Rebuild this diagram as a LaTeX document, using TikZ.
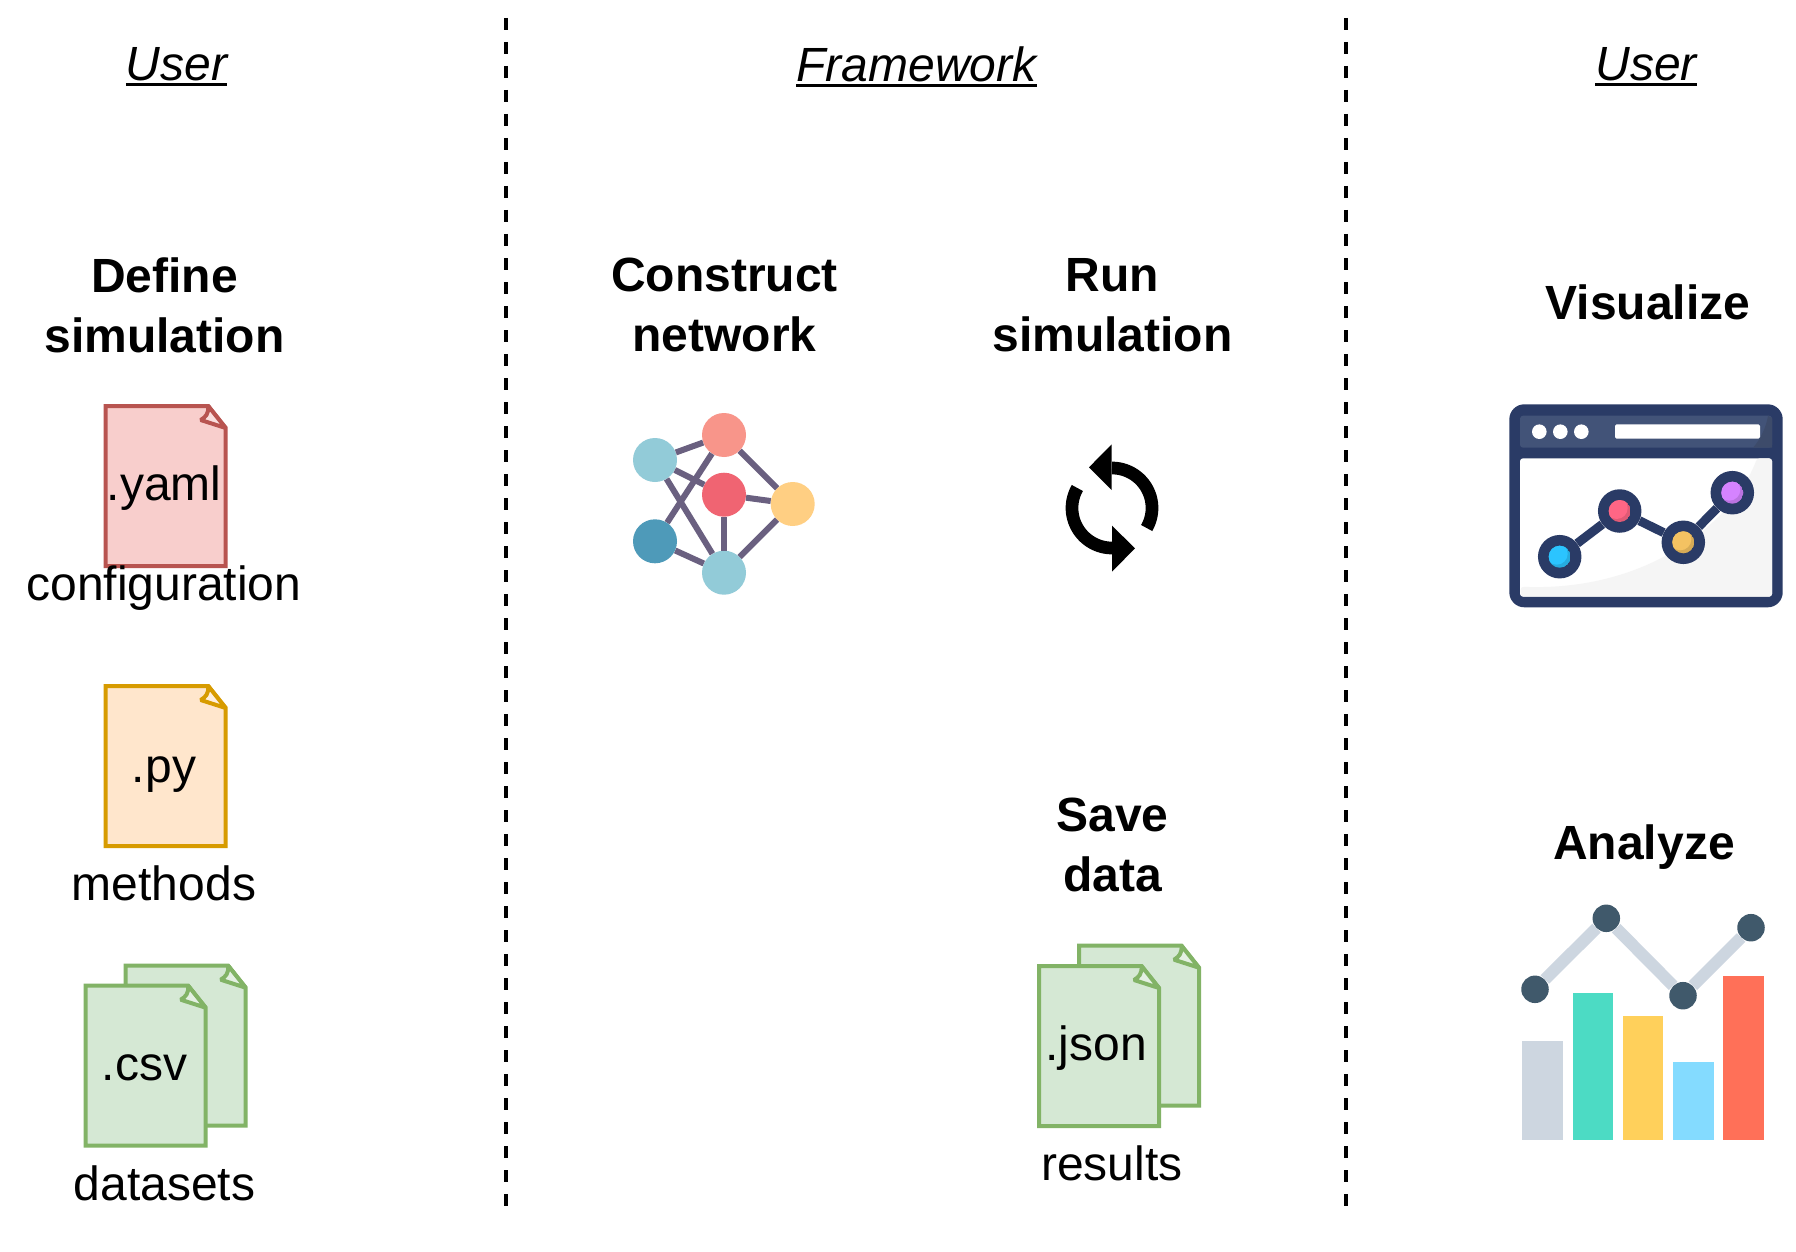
\documentclass[tikz,border=0pt]{standalone}
\usepackage{fontspec}
\setmainfont{Liberation Sans}
\newcommand{\ulined}[1]{\setbox0\hbox{#1}\rlap{\rule[-0.115em]{\wd0}{0.05em}}\box0}
\newcommand{\filedoc}[4]{%
  \begin{scope}[shift={(#1,#2)}]
    \draw[docline,fill=#3,draw=#4] (0,0) -- (102.5,0) -- (120,22) -- (120,160) -- (0,160) -- cycle;
    \draw[docline,draw=#4,fill=white!35!#3] (102.5,0) .. controls (103,8) and (100,11) .. (95,14) -- (120,22) -- cycle;
  \end{scope}}
\newcommand{\wininner}[2]{%
  \begin{scope}
    \clip (#1.center) circle[radius=11pt];
    \fill[#2!88!black] (#1.center) circle[radius=11pt];
    \fill[#2] ([xshift=-3pt,yshift=3pt]#1.center) circle[radius=11pt];
  \end{scope}}
\definecolor{redfill}{HTML}{F8CECC}\definecolor{redline}{HTML}{B85450}
\definecolor{orfill}{HTML}{FFE6CC}\definecolor{orline}{HTML}{D79B00}
\definecolor{grfill}{HTML}{D5E8D4}\definecolor{grline}{HTML}{82B366}
\definecolor{netedge}{HTML}{6A6080}
\definecolor{neta}{HTML}{92CBD8}\definecolor{netb}{HTML}{F8958A}\definecolor{netc}{HTML}{F06472}
\definecolor{netd}{HTML}{FFCF83}\definecolor{nete}{HTML}{4E9AB9}
\definecolor{winnavy}{HTML}{2A3B66}\definecolor{winbar}{HTML}{425378}\definecolor{winbard}{HTML}{3D4B6A}
\definecolor{wina}{HTML}{2BC4FF}\definecolor{winb}{HTML}{FF6685}\definecolor{winc}{HTML}{F4C262}\definecolor{wind}{HTML}{D583FF}
\definecolor{chartgrey}{HTML}{CDD6E0}\definecolor{chartnode}{HTML}{40596B}
\definecolor{bara}{HTML}{4CDBC4}\definecolor{barb}{HTML}{FFD05B}\definecolor{barc}{HTML}{84DBFF}\definecolor{bard}{HTML}{FF7058}
\tikzset{
  x=1pt,y=-1pt,
  txt/.style={font=\fontsize{48}{60}\selectfont,align=center,inner sep=0pt,text=black},
  head/.style={font=\fontsize{48}{60}\selectfont\bfseries,align=center,inner sep=0pt,text=black},
  colhead/.style={font=\fontsize{48}{60}\selectfont\itshape,inner sep=0pt,text=black},
  divider/.style={line width=4pt,dash pattern=on 12pt off 12pt},
  docline/.style={line width=4pt,line join=miter,miter limit=1.5},
  netnode/.style={circle,inner sep=0pt,minimum size=44pt,fill=#1},
  netlink/.style={line width=6pt,draw=netedge},
  winnode/.style={circle,inner sep=0pt,minimum size=43.5pt,fill=winnavy},
  winlink/.style={line width=9pt,draw=winnavy},
  chartnodest/.style={circle,inner sep=0pt,minimum size=27.5pt,fill=chartnode},
  chartlink/.style={line width=12pt,draw=chartgrey},
  windot/.style={circle,inner sep=0pt,minimum size=14.6pt,fill=white},
  refresh/.style={line width=12.7pt,draw=black}
}
\begin{document}
\begin{tikzpicture}
\useasboundingbox (0,0) rectangle (1796,1252);
\fill[white] (0,0) rectangle (1796,1252);

% dividers
\coordinate (d1a) at (506,18); \coordinate (d1b) at (506,1206);
\coordinate (d2a) at (1346,18); \coordinate (d2b) at (1346,1206);
\draw[divider] (d1a) -- (d1b);
\draw[divider] (d2a) -- (d2b);

% column heads
\node[colhead] (h1) at (176.5,66.5) {\ulined{User}};
\node[colhead] (h2) at (916.5,66.5) {\ulined{Framework}};
\node[colhead] (h3) at (1646,66.5) {\ulined{User}};

% step headings
\node[head] (s1) at (164.6,305) {Define\\simulation};
\node[head] (s2) at (724.6,305) {Construct\\network};
\node[head] (s3) at (1112.4,305) {Run\\simulation};
\node[head] (s4) at (1648,302) {Visualize};
\node[head] (s5) at (1112.6,845) {Save\\data};
\node[head] (s6) at (1644,847.5) {Analyze};

% files
\filedoc{105.7}{406}{redfill}{redline}
\node[txt] (yaml) at (164,488) {.yaml};
\node[txt] (conf) at (164,588.5) {configuration};
\filedoc{105.7}{686}{orfill}{orline}
\node[txt] (py) at (164,775) {.py};
\node[txt] (meth) at (164,883) {methods};
\filedoc{125.7}{965.7}{grfill}{grline}
\filedoc{85.7}{985.7}{grfill}{grline}
\node[txt] (csv) at (144.5,1067.5) {.csv};
\node[txt] (data) at (164.5,1183) {datasets};
\filedoc{1079}{945.7}{grfill}{grline}
\filedoc{1039}{966}{grfill}{grline}
\node[txt] (json) at (1096,1048) {.json};
\node[txt] (res) at (1112,1163) {results};

% network
\node[netnode=neta] (na) at (655,460) {};
\node[netnode=netb] (nb) at (724,435) {};
\node[netnode=netc] (nc) at (724,494.7) {};
\node[netnode=netd] (nd) at (792.7,504) {};
\node[netnode=nete] (ne) at (655,541.3) {};
\node[netnode=neta] (nf) at (724,572.7) {};
\draw[netlink] (na) -- (nb);
\draw[netlink] (na) -- (nc);
\draw[netlink] (na) -- (nf);
\draw[netlink] (ne) -- (nb);
\draw[netlink] (ne) -- (nf);
\draw[netlink] (nb) -- (nd);
\draw[netlink] (nc) -- (nd);
\draw[netlink] (nc) -- (nf);
\draw[netlink] (nd) -- (nf);

% refresh icon
\draw[refresh] plot[domain=90:-30,samples=40] ({1112+40*cos(\x)},{508-40*sin(\x)});
\draw[refresh] plot[domain=270:150,samples=40] ({1112+40*cos(\x)},{508-40*sin(\x)});
\fill[black] (1111.7,444.3) -- (1089,467.3) -- (1111.7,490) -- cycle;
\fill[black] (1112,525.7) -- (1135,548.3) -- (1112,571.7) -- cycle;

% window icon
\fill[winnavy,rounded corners=15pt] (1509.3,404.3) rectangle (1782.7,607.3);
\fill[white,rounded corners=3pt] (1520,458.3) -- (1772,458.3) -- (1772,596.7) -- (1520,596.7) -- cycle;
\fill[white!96!black,rounded corners=3pt] (1520.7,586.7) .. controls (1600,590) and (1680,565) .. (1736.7,496.7) .. controls (1745,484) and (1752,472) .. (1757,458.3) -- (1772,458.3) -- (1772,596.7) -- (1520.7,596.7) -- cycle;
\fill[winbar,rounded corners=3pt] (1520,415.7) rectangle (1772,447.7);
\fill[winbard] (1768,415.7) .. controls (1766,428) and (1760,440) .. (1753,447.7) -- (1772,447.7) -- (1772,418) -- cycle;
\node[windot] (wd1) at (1539.3,431.7) {};
\node[windot] (wd2) at (1560.3,431.7) {};
\node[windot] (wd3) at (1581.3,431.7) {};
\fill[white,rounded corners=1.5pt] (1615,424.3) rectangle (1760,438.7);
\node[winnode] (w1) at (1559.7,556.7) {};
\node[winnode] (w2) at (1619.7,511) {};
\node[winnode] (w3) at (1683.3,542.3) {};
\node[winnode] (w4) at (1732.3,492.7) {};
\draw[winlink] (w1) -- (w2);
\draw[winlink] (w2) -- (w3);
\draw[winlink] (w3) -- (w4);
\wininner{w1}{wina}
\wininner{w2}{winb}
\wininner{w3}{winc}
\wininner{w4}{wind}

% chart icon
\fill[chartgrey] (1522.3,1041) rectangle (1563,1139.7);
\fill[bara] (1573,993) rectangle (1613.3,1139.7);
\fill[barb] (1623,1015.7) rectangle (1663.3,1139.7);
\fill[barc] (1673.3,1062.3) rectangle (1713.7,1139.7);
\fill[bard] (1723,975.7) rectangle (1763.7,1139.7);
\node[chartnodest] (c1) at (1535,989.3) {};
\node[chartnodest] (c2) at (1606.3,918.3) {};
\node[chartnodest] (c3) at (1683,995.7) {};
\node[chartnodest] (c4) at (1751,927.7) {};
\draw[chartlink] (c1) -- (c2);
\draw[chartlink] (c2) -- (c3);
\draw[chartlink] (c3) -- (c4);
\end{tikzpicture}
\end{document}
